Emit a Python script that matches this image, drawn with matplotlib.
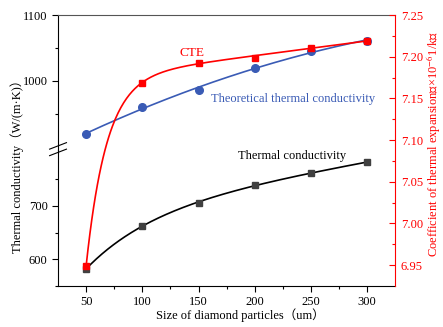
import numpy as np
import matplotlib.pyplot as plt

plt.rcParams['font.family'] = ['Liberation Serif', 'DejaVu Serif', 'Noto Sans CJK SC']
plt.rcParams['mathtext.fontset'] = 'stix'

size = [50, 100, 150, 200, 250, 300]
tc_measured = [582, 663, 706, 739, 762, 782]
tc_theory = [920, 960, 986, 1020, 1045, 1061]
cte = [6.949, 7.169, 7.193, 7.199, 7.211, 7.219]


def sat_fit(x, y):
    # y = a + m*x - b*exp(-(x-50)/t), least squares over a grid of t
    x = np.asarray(x, float)
    y = np.asarray(y, float)
    best = None
    for t in np.linspace(5, 200, 400):
        M = np.column_stack([np.ones_like(x), x, -np.exp(-(x - 50) / t)])
        coef, res, *_ = np.linalg.lstsq(M, y, rcond=None)
        r = np.sum((M @ coef - y) ** 2)
        if best is None or r < best[0]:
            best = (r, t, coef)
    _, t, coef = best
    xs = np.linspace(x.min(), x.max(), 300)
    return xs, coef[0] + coef[1] * xs - coef[2] * np.exp(-(xs - 50) / t)


fig = plt.figure(figsize=(4.43, 3.27), dpi=100)
L, W = 0.131, 0.761
y0, ybrk, y1 = 0.1254, 0.5413, 0.9541
ax_bot = fig.add_axes([L, y0, W, ybrk - y0])
ax_top = fig.add_axes([L, ybrk, W, y1 - ybrk])
ax_r = fig.add_axes([L, y0, W, y1 - y0])
ax_r.patch.set_visible(False)

# lower part: measured thermal conductivity
xs, ys = sat_fit(size, tc_measured)
ax_bot.plot(xs, ys, color='black', lw=1.2)
ax_bot.plot(size, tc_measured, 's', color='#404040', ms=5)
ax_bot.set_ylim(550, 805)
ax_bot.set_yticks([600, 700])
ax_bot.set_yticks([550, 650, 750], minor=True)

# upper part: theoretical thermal conductivity
p = np.polyfit(size, tc_theory, 2)
xs2 = np.linspace(50, 300, 200)
ax_top.plot(xs2, np.polyval(p, xs2), color='#3a5bb5', lw=1.2)
ax_top.plot(size, tc_theory, 'o', color='#3a5bb5', ms=5.5)
ax_top.set_ylim(895, 1100)
ax_top.set_yticks([1000, 1100])
ax_top.set_yticks([950, 1050], minor=True)

# CTE on the right axis
xs3, ys3 = sat_fit(size, cte)
ax_r.plot(xs3, ys3, color='red', lw=1.2)
ax_r.plot(size, cte, 's', color='red', ms=5)
ax_r.set_ylim(6.925, 7.25)
cte_ticks = np.arange(6.95, 7.26, 0.05)
ax_r.set_yticks(cte_ticks)
ax_r.set_yticks(np.arange(6.975, 7.25, 0.05), minor=True)
ax_r.yaxis.tick_right()
ax_r.set_yticklabels([f'{v:.2f}' for v in cte_ticks])

for a in (ax_bot, ax_top, ax_r):
    a.set_xlim(25, 325)

ax_bot.set_xticks(size)
ax_bot.set_xticks([75, 125, 175, 225, 275], minor=True)
ax_top.set_xticks([])
ax_r.set_xticks([])

ax_bot.spines[['top', 'right']].set_visible(False)
ax_top.spines[['bottom', 'right']].set_visible(False)
ax_r.spines[['top', 'bottom', 'left']].set_visible(False)
ax_r.spines['right'].set_color('red')
ax_top.spines['top'].set_color('#555555')

for a in (ax_bot, ax_top):
    a.tick_params(which='major', direction='out', length=4, width=0.8, labelsize=9)
    a.tick_params(which='minor', direction='out', length=2.5, width=0.8)
ax_r.tick_params(which='major', direction='in', length=4, width=0.8, colors='red',
                 labelsize=9, pad=4)
ax_r.tick_params(which='minor', direction='in', length=2.5, width=0.8, colors='red')

# break marks on the left spine
for dy in (-0.012, 0.012):
    ax_r.plot([-0.025, 0.025], [0.505 + dy - 0.012, 0.505 + dy + 0.012],
              transform=ax_r.transAxes, color='black', lw=0.8, clip_on=False)

fig.text(0.543, 0.016, 'Size of diamond particles（um）', ha='center', va='bottom', fontsize=9)
fig.text(0.038, 0.5, 'Thermal conductivity（W/(m·K)）', rotation=90,
         va='center', ha='center', fontsize=9)
fig.text(0.978, 0.56, 'Coefficient of thermal expansion（×10$^{-6}$1/k）', rotation=90,
         va='center', ha='center', color='red', fontsize=9)

ax_r.text(144.5, 7.205, 'CTE', color='red', fontsize=9.5, ha='center', va='center')
ax_r.text(160.7, 7.149, 'Theoretical thermal conductivity', color='#3a5bb5',
          fontsize=9, ha='left', va='center')
ax_r.text(185, 7.081, 'Thermal conductivity', color='black',
          fontsize=9, ha='left', va='center')

fig.savefig('out.png', dpi=100)
